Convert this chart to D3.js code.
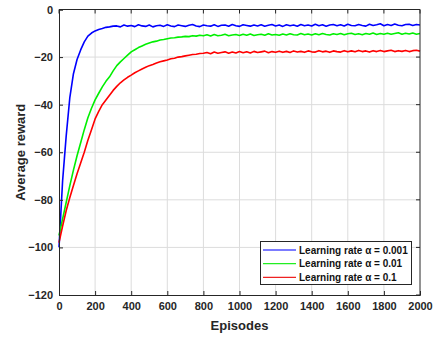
<!DOCTYPE html>
<html><head><meta charset="utf-8">
<script src="https://cdn.jsdelivr.net/npm/d3@7"></script>
<style>body{margin:0;background:#fff}svg{display:block;font-family:"Liberation Sans",Arial,sans-serif}</style>
</head><body><svg id="c" width="436" height="337"></svg>
<script>
const episodes = d3.range(0, 2001, 20);
const seriesNames = ["Learning rate \u03b1 = 0.001", "Learning rate \u03b1 = 0.01", "Learning rate \u03b1 = 0.1"];
const xTicks = [0,200,400,600,800,1000,1200,1400,1600,1800,2000];
const yTicks = [0,-20,-40,-60,-80,-100,-120];
const blue = [-100,-72,-53,-37,-27,-21,-17,-13.6,-11.2,-9.9,-9.0,-8.4,-8.0,-7.5,-7.3,-7.0,
-6.9,-7.3,-6.5,-7.0,-6.7,-7.2,-6.4,-6.9,-7.1,-6.5,
-7.3,-6.8,-6.6,-7.1,-6.4,-6.9,-7.2,-6.5,-6.8,-7.1,
-6.6,-6.3,-6.9,-7.2,-6.5,-6.8,-7.0,-6.4,-7.1,-6.6,
-6.5,-7.0,-6.3,-6.8,-7.1,-6.4,-6.7,-7.0,-6.5,-6.9,
-6.4,-7.0,-6.6,-6.3,-6.9,-6.5,-7.1,-6.4,-6.8,-6.5,
-7.0,-6.3,-6.8,-6.5,-6.9,-6.2,-6.8,-6.4,-7.0,-6.5,
-6.3,-6.8,-6.4,-6.9,-6.2,-6.7,-6.8,-6.3,-6.7,-7.0,
-6.2,-6.7,-6.4,-6.0,-6.8,-6.3,-6.7,-6.1,-6.6,-6.8,
-6.3,-6.2,-6.7,-6.3,-6.5];
const green = [-95,-88,-81,-74,-67.5,-61.5,-56,-50.5,-45.5,-41.5,-38,-35.2,-32.5,-30.2,-28.3,-25.8,-23.6,-22,-20.6,-19.2,
-17.8,-16.9,-16.0,-15.3,-14.6,-14.1,-13.6,-13.3,-12.8,-12.6,-12.3,-12.0,-11.9,-11.6,-11.5,-11.3,-11.4,-11.0,-11.2,-10.8,-11.0,
-10.6,-11.1,-10.5,-11.0,-10.8,-10.4,-11.0,-10.7,-10.5,-10.9,
-10.4,-10.8,-10.3,-10.9,-10.6,-10.4,-10.8,-10.2,-10.7,-10.5,
-10.8,-10.3,-10.7,-10.2,-10.6,-10.7,-10.1,-10.6,-10.3,-10.7,
-10.2,-10.6,-10.1,-10.5,-10.7,-10.2,-10.5,-10.1,-10.6,-10.2,
-10.0,-10.5,-10.2,-10.6,-10.1,-10.4,-9.9,-10.5,-10.1,-10.4,
-10.0,-10.4,-10.1,-9.8,-10.4,-10.0,-10.3,-9.9,-10.4,-10.1];
const red = [-98,-91,-84.5,-79,-74,-69,-64.5,-60,-55,-50.5,-46,-42.8,-40,-38,-36,-34,-32.3,-30.8,-29.6,-28.5,
-27.6,-26.6,-25.8,-25.0,-24.3,-23.6,-23.1,-22.5,-22.0,-21.6,-21.2,-20.7,-20.5,-20.0,-19.8,-19.5,-19.2,-18.9,-18.8,-18.5,-18.4,
-18.1,-18.6,-17.9,-18.4,-18.1,-17.8,-18.4,-17.9,-18.3,-17.7,
-18.2,-17.8,-18.3,-17.6,-18.1,-17.8,-17.5,-18.2,-17.7,-18.0,
-17.5,-18.0,-17.6,-18.1,-17.4,-17.9,-17.6,-18.0,-17.4,-17.8,
-17.9,-17.3,-17.8,-17.5,-18.0,-17.4,-17.7,-17.9,-17.3,-17.8,
-17.4,-17.8,-17.2,-17.7,-17.4,-17.9,-17.3,-17.7,-17.2,-17.7,
-17.4,-17.1,-17.7,-17.3,-17.6,-17.2,-17.7,-17.3,-17.1,-17.5];
const colors = ["#0000ff","#00f000","#ff0000"];
const legendColors = ["#7b7bff","#22ee22","#ee2222"];

const svg = d3.select("#c");
const L=59, T=9.5, R=420, B=295;
const x = d3.scaleLinear().domain([0,2000]).range([L,R]);
const y = d3.scaleLinear().domain([-120,0]).range([B,T]);

// grid
svg.append("g").selectAll("line").data(xTicks.slice(1,-1)).join("line")
  .attr("x1",d=>x(d)).attr("x2",d=>x(d)).attr("y1",T).attr("y2",B)
  .attr("stroke","#dcdcdc").attr("stroke-width",1);
svg.append("g").selectAll("line").data(yTicks.slice(1,-1)).join("line")
  .attr("y1",d=>y(d)).attr("y2",d=>y(d)).attr("x1",L).attr("x2",R)
  .attr("stroke","#dcdcdc").attr("stroke-width",1);

// lines
const data = [blue, green, red];
const line = d3.line().x((d,i)=>x(episodes[i])).y(d=>y(d));
[0,1,2].forEach(k=>{
  svg.append("path").datum(data[k]).attr("d",line).attr("fill","none")
    .attr("stroke",colors[k]).attr("stroke-width",1.6).attr("stroke-linejoin","round");
});

// axes (ticks inward)
const fontT = "bold 11px 'Liberation Sans', Arial, sans-serif";
const xa = svg.append("g").attr("transform",`translate(0,${B})`)
  .call(d3.axisBottom(x).tickValues(xTicks).tickSize(-4).tickPadding(7).tickFormat(d3.format("d")));
const ya = svg.append("g").attr("transform",`translate(${L},0)`)
  .call(d3.axisLeft(y).tickValues(yTicks).tickSize(-4).tickPadding(6).tickFormat(d3.format("d")));
[xa,ya].forEach(a=>{
  a.select(".domain").attr("stroke","#262626");
  a.selectAll(".tick line").attr("stroke","#262626");
  a.selectAll("text").style("font",fontT).attr("fill","#262626");
});
// box top/right
svg.append("line").attr("x1",L).attr("x2",R).attr("y1",T).attr("y2",T).attr("stroke","#262626");
svg.append("line").attr("x1",R).attr("x2",R).attr("y1",T).attr("y2",B).attr("stroke","#262626");
svg.append("g").selectAll("line").data(xTicks).join("line")
  .attr("x1",d=>x(d)).attr("x2",d=>x(d)).attr("y1",T).attr("y2",T+4).attr("stroke","#262626");
svg.append("g").selectAll("line").data(yTicks).join("line")
  .attr("y1",d=>y(d)).attr("y2",d=>y(d)).attr("x1",R).attr("x2",R-4).attr("stroke","#262626");

// titles
svg.append("text").attr("x",(L+R)/2).attr("y",330).attr("text-anchor","middle")
  .style("font","bold 13px 'Liberation Sans', Arial, sans-serif").attr("fill","#262626").text("Episodes");
svg.append("text").attr("transform",`translate(25,${(T+B)/2}) rotate(-90)`).attr("text-anchor","middle")
  .style("font","bold 13px 'Liberation Sans', Arial, sans-serif").attr("fill","#262626").text("Average reward");

// legend
const lg = svg.append("g");
lg.append("rect").attr("x",260.5).attr("y",241.5).attr("width",151).attr("height",43)
  .attr("fill","#fff").attr("stroke","#262626");
seriesNames.forEach((n,k)=>{
  const yy = 250 + k*13.7;
  lg.append("line").attr("x1",263).attr("x2",296).attr("y1",yy).attr("y2",yy)
    .attr("stroke",legendColors[k]).attr("stroke-width",k===0?1.8:1.2);
  lg.append("text").attr("x",299).attr("y",yy+3.5)
    .style("font","bold 10px 'Liberation Sans', Arial, sans-serif").attr("fill","#111").text(n);
});
</script></body></html>
